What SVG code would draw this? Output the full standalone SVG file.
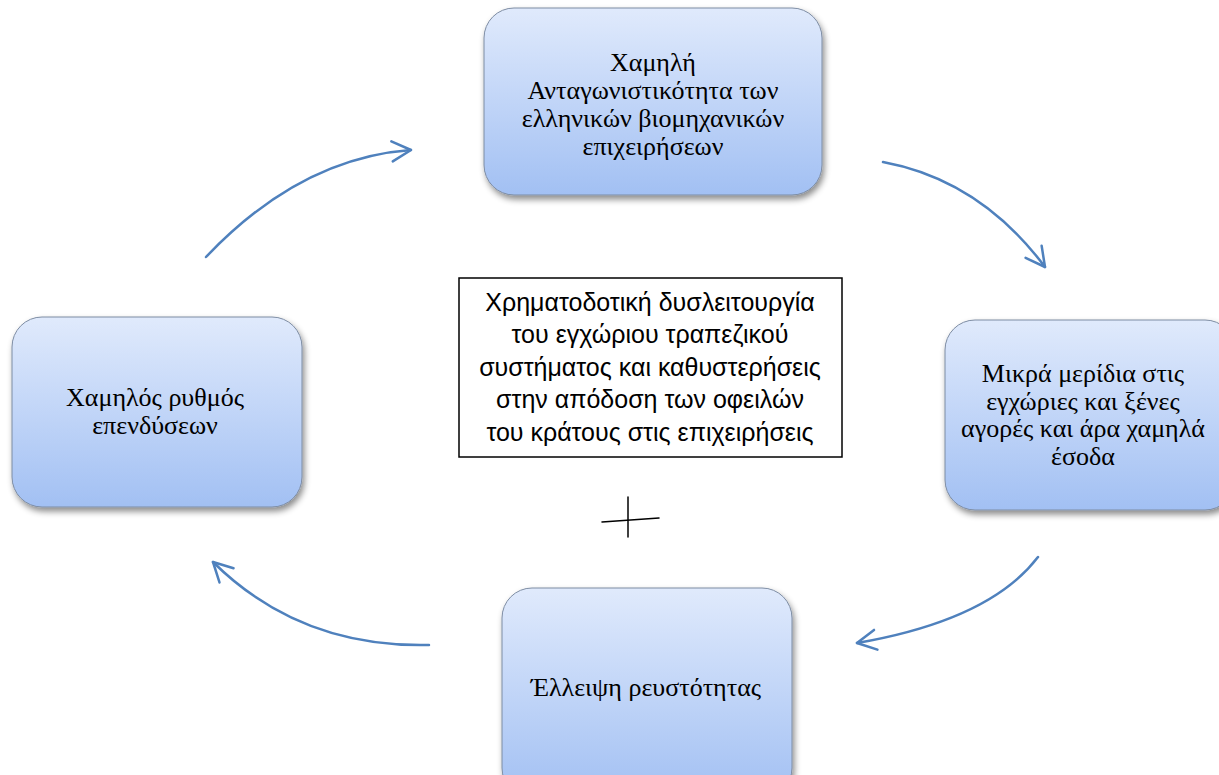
<svg xmlns="http://www.w3.org/2000/svg" width="1219" height="775" viewBox="0 0 1219 775">
<defs>
<linearGradient id="boxGrad" x1="0" y1="0" x2="0" y2="1">
<stop offset="0" stop-color="#e0eafc"/>
<stop offset="1" stop-color="#a2c0f3"/>
</linearGradient>
<filter id="shadow" x="-10%" y="-10%" width="125%" height="130%">
<feDropShadow dx="2" dy="4" stdDeviation="3" flood-color="#000" flood-opacity="0.45"/>
</filter>
<marker id="arrow" markerUnits="userSpaceOnUse" markerWidth="26" markerHeight="26" viewBox="0 0 26 26" refX="22" refY="13" orient="auto">
<path d="M3,3 L22,13 L3,23" fill="none" stroke="#4f81bd" stroke-width="2.5" stroke-linecap="round" stroke-linejoin="round"/>
</marker>
<style>
.box{fill:url(#boxGrad);stroke:#7d8ca3;stroke-width:1;filter:url(#shadow);}
.lbl{font-family:'Liberation Serif','Times New Roman',serif;font-size:26px;fill:#000;text-anchor:middle;}
.ctr{font-family:'Liberation Sans',Arial,sans-serif;font-size:25px;fill:#000;text-anchor:middle;}
.conn{fill:none;stroke:#4f81bd;stroke-width:2.5;stroke-linecap:round;marker-end:url(#arrow);}
</style>
</defs>
<rect width="1219" height="775" fill="#ffffff"/>

<g id="node-top">
<rect class="box" x="484" y="8" width="338" height="187" rx="30" ry="30"/>
<text class="lbl" x="653" y="71">Χαμηλή</text>
<text class="lbl" x="653" y="99">Ανταγωνιστικότητα των</text>
<text class="lbl" x="653" y="127">ελληνικών βιομηχανικών</text>
<text class="lbl" x="653" y="155">επιχειρήσεων</text>
</g>

<g id="node-right">
<rect class="box" x="945" y="320" width="290" height="190" rx="30" ry="30"/>
<text class="lbl" x="1083" y="382">Μικρά μερίδια στις</text>
<text class="lbl" x="1083" y="410">εγχώριες και ξένες</text>
<text class="lbl" x="1083" y="437">αγορές και άρα χαμηλά</text>
<text class="lbl" x="1083" y="465">έσοδα</text>
</g>

<g id="node-bottom">
<rect class="box" x="502" y="588" width="290" height="210" rx="30" ry="30"/>
<text class="lbl" x="646" y="696">Έλλειψη ρευστότητας</text>
</g>

<g id="node-left">
<rect class="box" x="12" y="317" width="290" height="190" rx="30" ry="30"/>
<text class="lbl" x="155" y="406">Χαμηλός ρυθμός</text>
<text class="lbl" x="155" y="434">επενδύσεων</text>
</g>

<g id="node-center">
<rect x="459" y="278" width="383" height="179" fill="#ffffff" stroke="#000" stroke-width="1.5"/>
<text class="ctr" x="650" y="311">Χρηματοδοτική δυσλειτουργία</text>
<text class="ctr" x="650" y="343">του εγχώριου τραπεζικού</text>
<text class="ctr" x="650" y="376">συστήματος και καθυστερήσεις</text>
<text class="ctr" x="650" y="408">στην απόδοση των οφειλών</text>
<text class="ctr" x="650" y="441">του κράτους στις επιχειρήσεις</text>
</g>

<g id="plus-sign" stroke="#000" stroke-width="1.5" stroke-linecap="round">
<line x1="628" y1="497" x2="628" y2="537"/>
<line x1="602" y1="522" x2="659" y2="518"/>
</g>

<g id="connectors">
<path class="conn" d="M206,257 Q300,158 411,150"/>
<path class="conn" d="M883,162 Q980,180 1045,267"/>
<path class="conn" d="M1038,557 Q990,620 857,643"/>
<path class="conn" d="M429,645 Q300,648 213,562"/>
</g>
</svg>
